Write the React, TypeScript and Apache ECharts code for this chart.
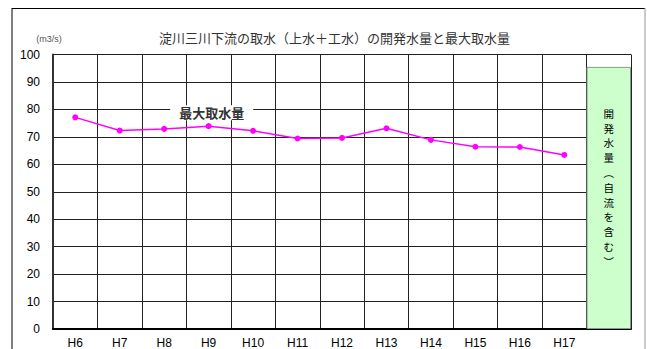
import React, { useEffect, useRef } from "react";
import * as echarts from "echarts";

const categories = ["H6", "H7", "H8", "H9", "H10", "H11", "H12", "H13", "H14", "H15", "H16", "H17", ""];
const maxIntake = [77.1, 72.3, 72.9, 73.9, 72.2, 69.4, 69.6, 73.1, 68.9, 66.4, 66.3, 63.4, null];
const developed = [null, null, null, null, null, null, null, null, null, null, null, null, 95.5];
const titleText = "淀川三川下流の取水（上水＋工水）の開発水量と最大取水量";
const unitText = "(m3/s)";
const lineName = "最大取水量";
const barLabel = "開発水量︵自流を含む︶";

export default function App() {
  const ref = useRef<HTMLDivElement>(null);
  useEffect(() => {
    if (!ref.current) return;
    const chart = echarts.init(ref.current, null, { renderer: "svg" });
    const jp = "'Noto Sans CJK JP', sans-serif";
    const num = "'Liberation Sans', Arial, sans-serif";
    chart.setOption({
      animation: false,
      backgroundColor: "#fff",
      grid: { left: 53, right: 16, top: 54.5, bottom: 19.5 },
      title: {
        text: titleText,
        left: 329.5,
        textAlign: "center",
        top: 26,
        textStyle: { fontFamily: jp, fontSize: 13, fontWeight: "normal", color: "#333" },
      },
      xAxis: {
        type: "category",
        data: categories,
        axisLine: { lineStyle: { color: "#000", width: 2 } },
        axisTick: { show: false },
        axisLabel: { fontFamily: num, fontSize: 12, color: "#000", margin: 8 },
        splitLine: { show: true, lineStyle: { color: "#222", width: 1 } },
      },
      yAxis: {
        type: "value",
        min: 0,
        max: 100,
        interval: 10,
        axisLine: { show: true, lineStyle: { color: "#333", width: 2 } },
        axisTick: { show: false },
        axisLabel: { fontFamily: num, fontSize: 12, color: "#000", margin: 13 },
        splitLine: { show: true, lineStyle: { color: "#222", width: 1 } },
      },
      series: [
        {
          type: "bar",
          data: developed,
          barWidth: "100%",
          z: 3,
          itemStyle: { color: "#ccffcc", borderColor: "#8a9a8a", borderWidth: 1 },
          label: {
            show: true,
            position: "insideTop",
            distance: 39,
            formatter: () => barLabel.split("").join("\n"),
            fontFamily: jp,
            fontSize: 10.5,
            lineHeight: 14.8,
            color: "#000",
          },
        },
        {
          type: "line",
          data: maxIntake,
          z: 4,
          symbol: "circle",
          symbolSize: 6,
          lineStyle: { color: "#ff00ff", width: 1.5 },
          itemStyle: { color: "#ff00ff" },
        },
      ],
      graphic: [
        { type: "line", shape: { x1: 12, y1: 8.5, x2: 645, y2: 8.5 }, style: { stroke: "#000", lineWidth: 1 } },
        { type: "line", shape: { x1: 12, y1: 8, x2: 12, y2: 349 }, style: { stroke: "#000", lineWidth: 1 } },
        { type: "line", shape: { x1: 645, y1: 8, x2: 645, y2: 349 }, style: { stroke: "#999", lineWidth: 1 } },
        {
          type: "text",
          x: 49,
          y: 38.5,
          style: { text: unitText, fontFamily: num, fontSize: 9, fill: "#555", align: "center", verticalAlign: "middle" },
        },
        {
          type: "text",
          x: 211.7,
          y: 112.7,
          z: 10,
          style: {
            text: lineName,
            fontFamily: jp,
            fontSize: 13,
            fontWeight: "bold",
            fill: "#333",
            align: "center",
            verticalAlign: "middle",
            backgroundColor: "#fff",
            padding: [1, 9, 1, 9],
          },
        },
      ],
    });
    return () => chart.dispose();
  }, []);
  return <div ref={ref} style={{ width: 647, height: 349, position: "absolute", left: 0, top: 0 }} />;
}
